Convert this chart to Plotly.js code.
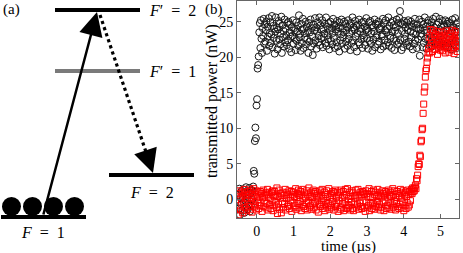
<!DOCTYPE html>
<html>
<head>
<meta charset="utf-8">
<script src="https://cdn.plot.ly/plotly-3.0.1.min.js"></script>
<style>html,body{margin:0;padding:0;background:#fff;}#chart{width:463px;height:253px;}</style>
</head>
<body>
<div id="chart"></div>
<script>
// ---- Panel (b): sampled time grid (µs) ----
const timeStart = -0.5;
const timeStep = 0.015;
const timeTicks = [0, 1, 2, 3, 4, 5];
const powerTicks = [0, 5, 10, 15, 20, 25];

// black circles: transmitted power (nW)
const powerBlack = [
0.6,-1.3,1.5,-2.2,0.2,-0.7,1.2,-1.6,0.3,1.4,-0.4,-1.9,0.9,-0.2,1.7,-1.1,0.5,-1.4,1.1,-0.6,1.6,-1.7,0.8,-0.9,1.3,-0.1,
1.2,1.8,4.0,3.6,8.2,10.1,8.6,13.2,14.1,18.4,18.9,20.1,
23.5,24.8,21.3,25.2,22.6,20.6,24.1,23.0,25.4,21.9,24.6,
22.2,23.8,25.0,20.9,24.3,22.9,25.5,21.6,23.4,24.9,22.0,
23.2,25.8,21.4,24.4,22.7,24.0,20.5,23.6,25.6,22.3,24.2,
21.1,23.9,25.1,22.5,24.7,21.8,23.3,25.7,20.6,24.5,22.8,
23.7,21.5,25.3,22.1,24.0,23.1,21.7,24.8,22.4,25.0,21.2,
23.5,24.6,22.9,20.7,24.2,23.0,25.2,21.9,24.1,22.6,23.8,
21.0,24.9,22.3,23.6,24.4,21.6,25.9,22.8,23.3,20.9,24.7,
22.0,23.9,25.4,21.3,24.0,22.7,23.4,25.0,21.8,24.3,22.5,
23.7,20.6,24.8,22.2,23.5,25.3,21.5,24.1,22.9,20.3,24.6,
21.9,23.8,25.5,22.4,24.2,21.2,23.6,24.9,22.1,23.0,25.6,
21.7,24.5,22.6,23.9,25.2,21.4,24.0,22.8,23.3,24.7,22.0,
25.6,21.6,24.3,23.1,22.5,24.8,21.1,23.7,25.0,22.3,24.1,
21.8,23.4,25.4,22.7,24.6,21.3,23.9,24.4,22.1,25.1,21.5,
23.6,24.2,20.8,24.9,22.4,23.2,25.3,21.9,24.0,22.8,23.5,
25.0,21.2,24.7,22.2,23.8,24.3,21.6,25.2,22.6,23.3,24.5,
21.0,24.8,22.0,23.7,25.6,22.4,24.2,21.4,23.9,25.1,22.9,
24.4,20.8,23.4,24.6,22.1,25.3,21.8,23.6,24.0,22.5,24.9,
21.3,23.1,25.0,22.7,24.3,21.7,23.8,25.5,22.6,24.0,21.2,
23.7,24.9,22.3,25.1,21.9,23.4,24.5,20.9,24.2,22.5,23.6,
25.3,21.4,24.7,22.8,23.1,24.6,21.8,25.0,22.2,23.9,24.1,
21.1,24.3,22.9,23.2,25.4,21.5,24.8,22.4,23.8,25.2,21.7,
23.5,24.0,22.1,25.6,21.6,24.4,23.0,22.7,24.9,21.3,23.6,
25.1,22.6,24.5,21.0,23.7,24.2,22.3,25.3,21.8,23.4,24.8,
22.0,25.5,26.5,22.4,24.8,21.0,23.7,24.6,21.4,25.1,22.6,
23.3,24.2,22.0,24.9,21.7,23.8,25.2,22.2,24.5,21.5,23.6,
25.0,22.8,24.3,21.1,23.4,24.7,21.9,25.4,22.4,23.2,24.1,
21.3,24.6,22.5,23.9,25.3,20.2,24.0,22.9,23.3,25.0,21.4,
24.6,22.0,23.8,25.6,22.6,24.3,21.2,23.5,24.8,22.4,25.2,
21.7,23.1,24.5,22.1,24.9,21.5,23.6,25.4,22.8,24.2,21.9,
23.4,25.7,22.3,24.6,21.8,23.0,24.9,22.1,25.4,21.5,23.8,
24.3,22.5,25.1,21.9,23.6,24.5,22.2,25.2,21.6,23.9,24.7,
22.0,25.0,21.4,23.3,24.8,22.7,24.4,21.1,23.7,25.3,22.4,
24.2,21.8,23.5,25.5,22.3,24.7,21.3,23.6,24.9,22.6,24.3
];

// red squares: transmitted power (nW)
const powerRed = [
-2.2,0.8,-0.9,1.2,-1.5,0.3,-0.4,1.0,-1.9,0.6,-0.7,
1.4,-1.2,0.2,0.9,-1.6,0.5,-0.2,1.1,-1.0,0.7,-1.4,
1.3,-0.6,0.1,-1.8,0.9,-0.3,1.5,-1.1,0.4,-0.8,1.2,
-1.5,0.6,-0.1,1.0,-1.3,0.3,-0.9,1.1,-0.5,0.8,-1.7,
0.2,1.3,-1.0,0.5,-0.4,0.9,-1.2,0.7,-0.6,1.4,-1.5,
0.3,1.0,-0.8,0.1,-1.3,0.9,-0.2,1.2,-1.6,0.5,-0.9,
1.1,-0.4,0.6,-1.1,1.6,-2.0,0.4,-0.7,1.3,-1.4,0.2,
0.8,-1.9,0.6,-0.3,1.0,-1.2,0.5,-0.6,1.4,-1.5,0.1,
0.9,-1.0,0.7,-0.8,1.2,-1.3,0.3,-0.2,1.1,-1.7,0.6,
-0.5,1.0,-1.1,0.4,-0.9,1.5,-1.4,0.2,0.8,-0.6,1.3,
-1.2,0.5,-0.3,1.1,-1.6,0.7,-0.8,1.4,-1.0,0.1,0.9,
-1.3,0.3,-0.5,1.2,-1.5,0.6,-0.2,1.6,-1.1,0.4,-0.9,
1.0,-1.4,0.2,-0.6,1.3,-1.2,0.8,-0.4,1.1,-1.5,0.5,
-0.1,0.9,-1.8,0.3,-0.7,1.2,-1.0,0.6,-0.4,1.4,-1.3,
0.1,-0.8,1.0,-1.6,0.7,-0.2,1.2,-1.1,0.4,-0.6,1.5,
-1.4,0.2,-0.9,0.8,-1.2,0.5,-0.3,1.1,-1.5,0.9,-0.7,
1.3,-1.0,0.3,-0.5,1.0,-1.7,0.6,-0.2,0.9,-1.4,1.3,
-1.2,0.2,-0.6,1.1,-1.6,0.5,-0.4,1.4,-1.3,0.7,-0.8,
1.5,-1.2,0.1,-0.9,1.0,-1.5,0.4,-0.3,1.2,-1.3,0.9,
-1.6,0.5,-0.7,0.2,1.3,-1.1,0.6,-0.8,1.4,-1.4,0.3,
-0.5,1.0,-1.0,0.6,-1.3,1.1,-0.2,0.9,-1.2,0.7,-1.7,
1.2,-0.4,0.8,-1.1,0.3,-0.9,1.5,-1.6,0.4,-0.6,1.1,
-1.3,0.2,-0.5,1.3,-1.4,0.7,-0.8,1.0,-1.0,0.4,-0.3,
1.4,-1.2,0.6,-0.7,0.9,-1.5,0.3,-1.1,1.2,-0.4,0.8,
-1.6,0.5,-0.2,1.1,-1.3,0.9,-0.9,0.2,1.3,-1.2,0.6,
-0.5,1.0,-1.4,0.4,-0.8,1.5,-1.1,0.7,-0.3,1.2,-1.5,
0.3,-0.6,1.1,-1.0,0.8,-1.3,0.5,-0.7,1.4,-1.2,0.2,
0.9,-0.4,1.2,-1.6,0.6,-0.9,1.0,-1.3,0.4,-0.5,1.3,
-1.1,0.7,-0.8,1.1,-0.2,0.9,1.4,0.8,1.6,1.1,1.5,
1.2,1.7,2.0,1.5,2.9,2.6,3.4,4.6,5.0,4.9,6.2,6.0,8.1,8.3,9.8,10.0,12.1,13.4,15.1,15.8,17.2,18.1,18.4,19.3,19.9,20.6,
21.2,22.8,20.6,23.9,21.6,22.4,23.4,20.8,22.0,23.8,21.6,22.9,21.1,23.2,
21.8,22.5,20.4,23.6,21.4,22.2,23.0,21.0,22.8,21.7,23.5,20.9,22.4,21.5,
23.1,22.0,20.6,23.7,21.9,22.6,21.2,23.3,22.1,20.7,22.9,21.6,23.4,22.3,
21.0,23.8,22.5,21.3,20.5,22.7,23.6,21.8,22.2,23.1,20.8,22.4,21.5,23.0
];

// ---- Panel (a): energy-level diagram labels ----
const levelLabels = ['<i>F</i>′\u2002=\u20022', '<i>F</i>′\u2002=\u20021', '<i>F</i>\u2002=\u20022', '<i>F</i>\u2002=\u20021'];
const panelLabels = ['(a)', '(b)'];
const xTitle = 'time (µs)';
const yTitle = 'transmitted power (nW)';

const timeBlack = powerBlack.map((_, i) => +(timeStart + i * timeStep).toFixed(3));
const timeRed = powerRed.map((_, i) => +(timeStart + i * timeStep).toFixed(3));

const serif = 'Liberation Serif';
const W = 463, H = 253;

const traces = [
  {x: timeBlack, y: powerBlack, type: 'scatter', mode: 'markers', xaxis: 'x', yaxis: 'y',
   marker: {symbol: 'circle-open', size: 7, color: '#1a1a1a', line: {width: 1}}, hoverinfo: 'skip'},
  {x: timeRed, y: powerRed, type: 'scatter', mode: 'markers', xaxis: 'x', yaxis: 'y',
   marker: {symbol: 'square-open', size: 6, color: '#ff0000', line: {width: 1}}, hoverinfo: 'skip'},
  {x: [], y: [], type: 'scatter', xaxis: 'x2', yaxis: 'y2', hoverinfo: 'skip'}
];

function lvl(x0, x1, y, color) {
  return {type: 'line', xref: 'x2', yref: 'y2', x0: x0, x1: x1, y0: y, y1: y, line: {color: color, width: 4}};
}
function ball(cx, cy, r) {
  return {type: 'circle', xref: 'x2', yref: 'y2', x0: cx - r, x1: cx + r, y0: cy - r, y1: cy + r,
          fillcolor: 'black', line: {color: 'black', width: 0}};
}
const shapes = [
  lvl(55, 140, 10, 'black'), lvl(55, 140, 71, '#7a7a7a'), lvl(109, 194, 175, 'black'), lvl(1, 86, 217, 'black'),
  ball(11.5, 206.5, 9.5), ball(32.5, 206.5, 9.5), ball(53.5, 206.5, 9.5), ball(74.5, 206.5, 9.5),
  {type: 'line', xref: 'x2', yref: 'y2', x0: 100, y0: 15, x1: 146, y1: 152, line: {color: 'black', width: 3.2, dash: 'dot'}}
];

const lblFont = {family: serif, size: 16, color: 'black'};
const annotations = [
  {xref: 'x2', yref: 'y2', x: 147, y: 10, text: levelLabels[0], showarrow: false, xanchor: 'left', yanchor: 'middle', font: lblFont},
  {xref: 'x2', yref: 'y2', x: 147, y: 71, text: levelLabels[1], showarrow: false, xanchor: 'left', yanchor: 'middle', font: lblFont},
  {xref: 'x2', yref: 'y2', x: 152, y: 192, text: levelLabels[2], showarrow: false, xanchor: 'center', yanchor: 'middle', font: lblFont},
  {xref: 'x2', yref: 'y2', x: 43, y: 232, text: levelLabels[3], showarrow: false, xanchor: 'center', yanchor: 'middle', font: lblFont},
  {xref: 'x2', yref: 'y2', x: 11, y: 9, text: panelLabels[0], showarrow: false, xanchor: 'center', yanchor: 'middle', font: {family: serif, size: 15, color: 'black'}},
  {xref: 'x2', yref: 'y2', axref: 'x2', ayref: 'y2', x: 97, y: 12, ax: 43, ay: 216, text: '',
   showarrow: true, arrowhead: 2, arrowsize: 1.9, arrowwidth: 2.5, arrowcolor: 'black', standoff: 0},
  {xref: 'x2', yref: 'y2', axref: 'x2', ayref: 'y2', x: 153, y: 173, ax: 145, ay: 149, text: '',
   showarrow: true, arrowhead: 2, arrowsize: 1.9, arrowwidth: 2.5, arrowcolor: 'black', standoff: 0},
  {xref: 'paper', yref: 'paper', x: 214 / W, y: 1 - 10 / H, text: panelLabels[1], showarrow: false, xanchor: 'center', yanchor: 'middle', font: {family: serif, size: 15, color: 'black'}},
  {xref: 'paper', yref: 'paper', x: 212 / W, y: 1 - 101 / H, text: yTitle, textangle: -90, showarrow: false, xanchor: 'center', yanchor: 'middle', font: {family: serif, size: 16, color: 'black'}},
  {xref: 'paper', yref: 'paper', x: 348 / W, y: 1 - 246 / H, text: xTitle, showarrow: false, xanchor: 'center', yanchor: 'middle', font: {family: serif, size: 15, color: 'black'}}
];

const axCommon = {showline: true, linecolor: '#666', linewidth: 1, mirror: 'ticks', ticks: 'inside', ticklen: 4,
  tickcolor: '#666', tickwidth: 1, showgrid: false, zeroline: false, tickfont: {family: serif, size: 14, color: 'black'}};

const layout = {
  width: W, height: H, margin: {l: 0, r: 0, t: 0, b: 0}, showlegend: false,
  font: {family: serif, color: 'black'},
  paper_bgcolor: 'white', plot_bgcolor: 'white',
  xaxis: Object.assign({}, axCommon, {domain: [237 / W, 459 / W], range: [-0.535, 5.5], tickvals: timeTicks, anchor: 'y'}),
  yaxis: Object.assign({}, axCommon, {domain: [35 / H, 252 / H], range: [-2.63, 27.91], tickvals: powerTicks, anchor: 'x'}),
  xaxis2: {domain: [0, 200 / W], range: [0, 200], visible: false, anchor: 'y2', fixedrange: true},
  yaxis2: {domain: [0, 1], range: [253, 0], visible: false, anchor: 'x2', fixedrange: true},
  shapes: shapes, annotations: annotations
};

Plotly.newPlot('chart', traces, layout, {staticPlot: true, displayModeBar: false});
</script>
</body>
</html>
